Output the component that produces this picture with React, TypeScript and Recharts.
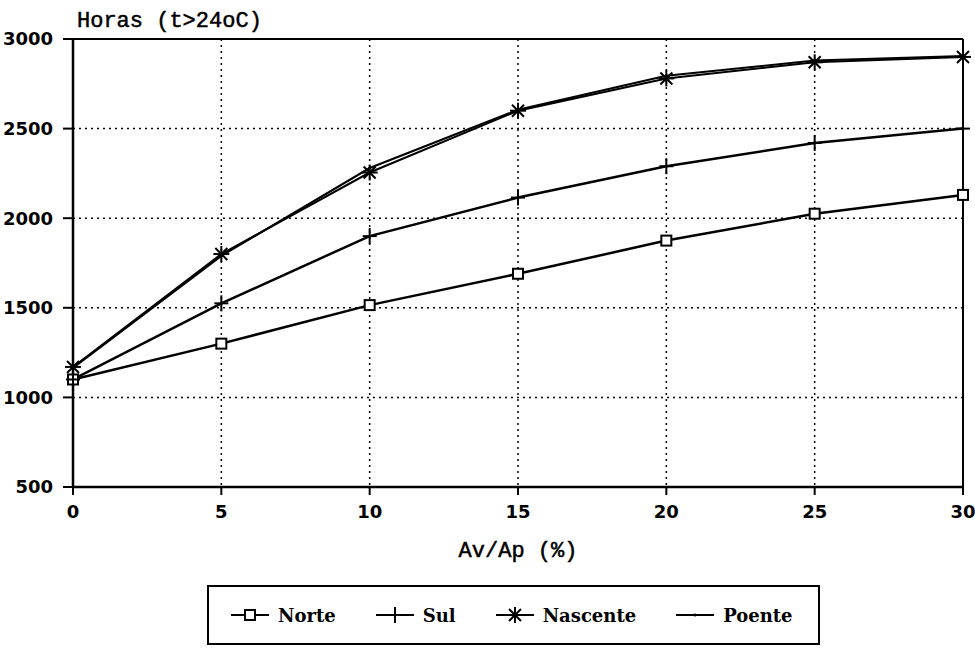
import React from 'react'
import { LineChart, Line, XAxis, YAxis, CartesianGrid, ReferenceLine, Legend, Label } from 'recharts'

// Av/Ap (%) on the x axis, hours above 24oC for each orientation
const avAp = [0, 5, 10, 15, 20, 25, 30]
const norte = [1100, 1300, 1515, 1690, 1875, 2025, 2130]
const sul = [1100, 1525, 1900, 2115, 2290, 2420, 2500]
const nascente = [1170, 1800, 2255, 2600, 2780, 2870, 2900]
const poente = [1165, 1790, 2280, 2605, 2795, 2880, 2905]

const xTicks = [0, 5, 10, 15, 20, 25, 30]
const yTicks = [500, 1000, 1500, 2000, 2500, 3000]

const data = avAp.map((x, i) => ({
    x,
    norte: norte[i],
    sul: sul[i],
    nascente: nascente[i],
    poente: poente[i]
}))

const INK = '#000'

const square = (cx: number, cy: number, key?: any) => (
    <rect key={key} x={cx - 5} y={cy - 5} width={10} height={10} fill="#fff" stroke={INK} strokeWidth={2} />
)

const plus = (cx: number, cy: number, key?: any) => (
    <g key={key} stroke={INK} strokeWidth={2}>
        <line x1={cx - 7} y1={cy} x2={cx + 7} y2={cy} />
        <line x1={cx} y1={cy - 8} x2={cx} y2={cy + 8} />
    </g>
)

const star = (cx: number, cy: number, key?: any) => (
    <g key={key} stroke={INK} strokeWidth={2}>
        <line x1={cx - 8} y1={cy} x2={cx + 8} y2={cy} />
        <line x1={cx} y1={cy - 8} x2={cx} y2={cy + 8} />
        <line x1={cx - 6} y1={cy - 6} x2={cx + 6} y2={cy + 6} />
        <line x1={cx - 6} y1={cy + 6} x2={cx + 6} y2={cy - 6} />
    </g>
)

const tick = (cx: number, cy: number, key?: any) => (
    <circle key={key} cx={cx} cy={cy} r={1.5} fill={INK} stroke="none" />
)

const series = [
    { key: 'norte', name: 'Norte', marker: square, width: 2.5 },
    { key: 'sul', name: 'Sul', marker: plus, width: 2.5 },
    { key: 'nascente', name: 'Nascente', marker: star, width: 2 },
    { key: 'poente', name: 'Poente', marker: tick, width: 2 }
]

const axisFont = { fill: INK, fontFamily: 'DejaVu Sans', fontWeight: 'bold', fontSize: 18 }
const monoFont = { fill: INK, stroke: INK, strokeWidth: 0.5, fontFamily: 'Liberation Mono', fontSize: 22 }

const renderLegend = () => (
    <div style={{
        border: `2px solid ${INK}`,
        height: 60,
        boxSizing: 'border-box',
        display: 'flex',
        alignItems: 'center',
        paddingLeft: 20,
        fontFamily: 'DejaVu Serif',
        fontWeight: 'bold',
        fontSize: 18,
        color: INK
    }}>
        {series.map(s => (
            <div key={s.key} style={{ display: 'flex', alignItems: 'center', marginRight: 38 }}>
                <svg width={42} height={20}>
                    <line x1={2} y1={10} x2={40} y2={10} stroke={INK} strokeWidth={2} />
                    {s.marker(21, 10)}
                </svg>
                <span style={{ marginLeft: 7 }}>{s.name}</span>
            </div>
        ))}
    </div>
)

export default function App() {
    return (
        <div style={{ position: 'absolute', left: 0, top: 0, width: 975, height: 648, background: '#fff' }}>
            <LineChart width={975} height={648} data={data} margin={{ top: 39, right: 12, left: 0, bottom: 111 }}>
                <CartesianGrid stroke={INK} strokeWidth={1.5} strokeDasharray="2 4" />
                <XAxis
                    dataKey="x"
                    type="number"
                    domain={[0, 30]}
                    ticks={xTicks}
                    height={50}
                    tick={axisFont}
                    tickSize={8}
                    tickMargin={10}
                    axisLine={{ stroke: INK, strokeWidth: 2.5 }}
                    tickLine={{ stroke: INK, strokeWidth: 2 }}
                >
                    <Label value="Av/Ap (%)" position="bottom" offset={4} style={monoFont} />
                </XAxis>
                <YAxis
                    type="number"
                    domain={[500, 3000]}
                    ticks={yTicks}
                    width={73}
                    tick={axisFont}
                    tickSize={10}
                    tickMargin={10}
                    axisLine={{ stroke: INK, strokeWidth: 2.5 }}
                    tickLine={{ stroke: INK, strokeWidth: 2 }}
                >
                    <Label
                        content={({ viewBox }: any) => (
                            <text x={viewBox.x + viewBox.width + 4} y={viewBox.y - 12} {...monoFont}>
                                Horas (t&gt;24oC)
                            </text>
                        )}
                    />
                </YAxis>
                <ReferenceLine y={3000} stroke={INK} strokeWidth={2} />
                <ReferenceLine x={30} stroke={INK} strokeWidth={2} />
                {series.map(s => (
                    <Line
                        key={s.key}
                        dataKey={s.key}
                        name={s.name}
                        stroke={INK}
                        strokeWidth={s.width}
                        dot={(p: any) => s.marker(p.cx, p.cy, `${s.key}-${p.index}`)}
                        activeDot={false}
                        isAnimationActive={false}
                    />
                ))}
                <Legend
                    content={renderLegend}
                    layout="horizontal"
                    verticalAlign="middle"
                    align="center"
                    wrapperStyle={{ left: 207, top: 585, width: 613, height: 60 }}
                />
            </LineChart>
        </div>
    )
}
